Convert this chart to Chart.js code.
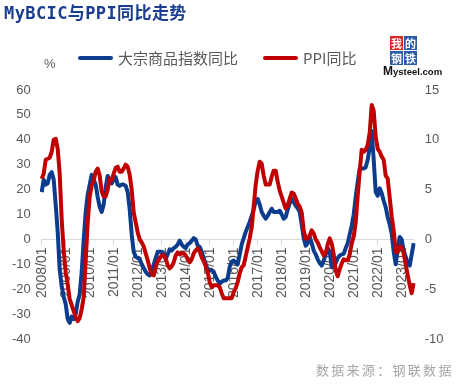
<!DOCTYPE html>
<html>
<head>
<meta charset="utf-8">
<script src="https://cdn.jsdelivr.net/npm/chart.js@4.4.0/dist/chart.umd.min.js"></script>
<style>
  body { margin: 0; background: #fff; }
  #wrap { position: relative; width: 461px; height: 385px; overflow: hidden; font-family: "Noto Sans CJK SC", sans-serif; }
  #grafico { position: absolute; left: 0; top: 0; }
  #titolo { position: absolute; left: 4px; top: 5px; font: bold 17px/17px "DejaVu Sans Mono", "Noto Sans CJK SC", monospace; color: #1b3d8f; letter-spacing: 0.4px; white-space: nowrap; }
  #perc { position: absolute; left: 44px; top: 56px; font: 13px/16px "Liberation Sans", Arial, sans-serif; color: #595959; }
  .leg { position: absolute; top: 49px; font: 15px/18px "Noto Sans CJK SC", sans-serif; color: #595959; white-space: nowrap; }
  .leg i { position: absolute; top: 7px; width: 35px; height: 4px; border-radius: 2px; }
  .leg span { position: absolute; left: 40px; top: 0; }
  #logo { position: absolute; left: 383px; top: 36px; width: 60px; height: 42px; }
  #logo b { position: absolute; width: 13px; height: 14px; color: #fff; font: bold 11px/14px "Noto Sans CJK SC", sans-serif; text-align: center; }
  #logo .m { position: absolute; left: 0; top: 29px; font: bold 9.5px/12px "Liberation Sans", Arial, sans-serif; color: #111; white-space: nowrap; }
  #logo .m em { font-style: normal; font-size: 12px; }
  #fonte { position: absolute; left: 316px; top: 361px; font: 13px/17px "Noto Sans CJK SC", sans-serif; color: #a6a6a6; letter-spacing: 2.3px; white-space: nowrap; }
</style>
</head>
<body>
<div id="wrap">
  <canvas id="grafico" width="461" height="385"></canvas>
  <div id="titolo">MyBCIC与PPI同比走势</div>
  <div id="perc">%</div>
  <div id="legenda"></div>
  <div id="logo">
    <b style="left:7px;top:0;background:#e02424">我</b>
    <b style="left:21px;top:0;background:#2a5caa">的</b>
    <b style="left:7px;top:15px;background:#2a5caa">钢</b>
    <b style="left:21px;top:15px;background:#2a5caa">铁</b>
    <div class="m"><em>M</em>ysteel.com</div>
  </div>
  <div id="fonte">数据来源：钢联数据</div>
</div>
<script>
// === DATI ===
const anni = ['2008', '2009', '2010', '2011', '2012', '2013', '2014', '2015',
              '2016', '2017', '2018', '2019', '2020', '2021', '2022', '2023'];
const mesi = ['01', '02', '03', '04', '05', '06', '07', '08', '09', '10', '11', '12'];
const ultimoMese = 7; // dati fino a 2023/07

// Indice MyBCIC, variazione su anno (%), asse sinistro
const bcicYoY = [
  19, 24, 22, 22.5, 26, 27, 24, 14, 3, -12, -19, -23,                    // 2008
  -26, -32, -33.5, -31, -32, -30, -25, -22, -13, 0, 11, 18,               // 2009
  22, 26, 24, 22, 17, 13, 11, 14, 21, 25.5, 24, 22.5,                     // 2010
  24, 25, 22, 21.5, 22, 22, 21.5, 19, 12, 2, -5, -7,                      // 2011
  -7.5, -8, -10, -11.5, -13, -14, -14.5, -13, -10, -7.5, -5, -5,          // 2012
  -5, -6, -8, -6, -4, -4.5, -3.5, -3, -2, -0.5, -2, -3,                   // 2013
  -3.5, -2, -1.5, -0.5, 0.5, 0, -2.5, -3, -5, -7.5, -10, -12,             // 2014
  -12.5, -12.5, -13, -15, -16.5, -17.8, -17, -16.5, -16.5, -15.5, -11, -9, // 2015
  -8.5, -9.5, -10, -6, -2, 0.5, 3, 5, 7, 9.5, 12, 15.5,                   // 2016
  16.3, 14, 11, 9.5, 8.3, 9.5, 11, 12.3, 11, 11, 11, 11.5,                // 2017
  10, 8.3, 9, 12, 14.5, 16.3, 15, 13.5, 12.5, 11, 6, 0.5,                 // 2018
  -2.5, -1.5, 1, -1.5, -4.5, -6, -8, -9.5, -10.5, -8.5, -6, -3.5,         // 2019
  -5, -11, -11, -9.5, -7.5, -6.5, -6, -5.8, -3.5, -1.5, 2, 5.5,           // 2020
  10, 17, 23, 28.5, 28.5, 28.5, 29, 32, 37, 43.5, 32, 19,                 // 2021
  17.5, 20.5, 18.5, 15.5, 13, 9, 6, 2.3, -5, -10, -4, 1,                  // 2022
  0, -4.5, -7, -9.5, -10.5, -6, -1.5                                      // 2023
];

// PPI, variazione su anno (%), asse destro
const ppiYoY = [
  6.1, 6.6, 8.0, 8.1, 8.2, 8.8, 10.0, 10.1, 9.1, 6.6, 2.0, -1.1,
  -3.3, -4.5, -6.0, -6.6, -7.2, -7.8, -8.2, -7.9, -7.0, -5.8, -2.1, 1.7,
  4.3, 5.4, 5.9, 6.8, 7.1, 6.4, 4.8, 4.3, 4.3, 5.0, 6.1, 5.9,
  6.6, 7.2, 7.3, 6.8, 6.8, 7.1, 7.5, 7.3, 6.5, 5.0, 2.7, 1.7,
  0.7, 0.0, -0.3, -0.7, -1.4, -2.1, -2.9, -3.5, -3.6, -2.8, -2.2, -1.9,
  -1.6, -1.6, -1.9, -2.6, -2.9, -2.7, -2.3, -1.6, -1.3, -1.5, -1.4, -1.4,
  -1.6, -2.0, -2.3, -2.0, -1.4, -1.1, -0.9, -1.2, -1.8, -2.2, -2.7, -3.3,
  -4.3, -4.8, -4.6, -4.6, -4.6, -4.8, -5.4, -5.9, -5.9, -5.9, -5.9, -5.9,
  -5.3, -4.9, -4.3, -3.4, -2.8, -2.6, -1.7, -0.8, 0.1, 1.2, 3.3, 5.5,
  6.9, 7.8, 7.6, 6.4, 5.5, 5.5, 5.5, 6.3, 6.9, 6.9, 5.8, 4.9,
  4.3, 3.7, 3.1, 3.4, 4.1, 4.7, 4.6, 4.1, 3.6, 3.3, 2.7, 0.9,
  0.1, 0.1, 0.4, 0.9, 0.6, 0.0, -0.3, -0.8, -1.2, -1.6, -1.4, -0.5,
  0.1, -0.4, -1.5, -3.1, -3.7, -3.0, -2.4, -2.0, -2.1, -2.1, -1.5, -0.4,
  0.3, 1.7, 4.4, 6.8, 9.0, 8.8, 9.0, 9.5, 10.7, 13.5, 12.9, 10.3,
  9.1, 8.8, 8.3, 8.0, 6.4, 6.1, 4.2, 2.3, 0.9, -1.3, -1.3, -0.7,
  -0.8, -1.4, -2.5, -3.6, -4.6, -5.4, -4.4
];

const nomiSerie = ['大宗商品指数同比', 'PPI同比'];
const coloriSerie = ['#0b3c8e', '#c00000'];

// etichette mensili "AAAA/MM"
const etichette = [];
anni.forEach((a, k) => {
  const n = k === anni.length - 1 ? ultimoMese : 12;
  for (let m = 0; m < n; m++) etichette.push(`${a}/${mesi[m]}`);
});

// === LEGENDA HTML ===
const legenda = document.getElementById('legenda');
const posLegenda = [78, 263];
nomiSerie.forEach((nome, i) => {
  const d = document.createElement('div');
  d.className = 'leg';
  d.style.left = posLegenda[i] + 'px';
  d.innerHTML = `<i style="background:${coloriSerie[i]}"></i><span>${nome}</span>`;
  legenda.appendChild(d);
});

// === GRAFICO ===
const grigioTesto = '#595959';
const ctx = document.getElementById('grafico').getContext('2d');
new Chart(ctx, {
  type: 'line',
  data: {
    labels: etichette,
    datasets: [
      {
        label: nomiSerie[0],
        data: bcicYoY,
        yAxisID: 'y',
        borderColor: coloriSerie[0],
        borderWidth: 4,
        borderJoinStyle: 'round',
        pointRadius: 0,
        tension: 0,
        order: 2
      },
      {
        label: nomiSerie[1],
        data: ppiYoY,
        yAxisID: 'y1',
        borderColor: coloriSerie[1],
        borderWidth: 4,
        borderJoinStyle: 'round',
        pointRadius: 0,
        tension: 0,
        order: 1
      }
    ]
  },
  options: {
    responsive: false,
    animation: false,
    layout: { padding: { top: 90, bottom: 46, left: 0, right: 0 } },
    plugins: { legend: { display: false }, tooltip: { enabled: false } },
    scales: {
      x: {
        position: { y: 0 },
        offset: false,
        border: { display: true, color: '#d9d9d9', width: 1 },
        grid: {
          drawOnChartArea: false,
          drawTicks: true,
          tickLength: 5,
          color: c => (c.index % 12 === 0 ? '#d9d9d9' : 'rgba(0,0,0,0)')
        },
        ticks: {
          autoSkip: false,
          minRotation: 90,
          maxRotation: 90,
          padding: 3,
          color: grigioTesto,
          font: { family: '"Liberation Sans", Arial, sans-serif', size: 14 },
          callback: (v, i) => (i % 12 === 0 ? etichette[i] : '')
        }
      },
      y: {
        position: 'left',
        min: -40,
        max: 60,
        afterFit: s => { s.width = 41.7; },
        border: { display: false },
        grid: { display: false, drawTicks: false },
        ticks: {
          stepSize: 10,
          padding: 11,
          color: grigioTesto,
          font: { family: '"Liberation Sans", Arial, sans-serif', size: 13 }
        }
      },
      y1: {
        position: 'right',
        min: -10,
        max: 15,
        afterFit: s => { s.width = 461 - 413.7; },
        border: { display: false },
        grid: { display: false, drawTicks: false },
        ticks: {
          stepSize: 5,
          padding: 11,
          color: grigioTesto,
          font: { family: '"Liberation Sans", Arial, sans-serif', size: 13 }
        }
      }
    }
  }
});
</script>
</body>
</html>
